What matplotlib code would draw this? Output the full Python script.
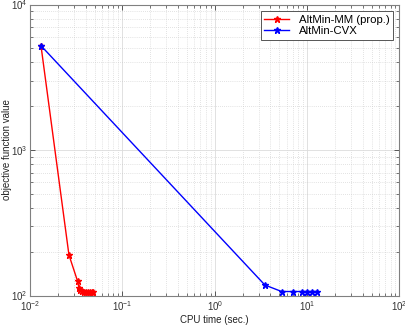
import matplotlib
matplotlib.use("Agg")
import matplotlib.pyplot as plt
from matplotlib.ticker import LogLocator, NullFormatter

plt.rcParams['font.family'] = ['Liberation Sans', 'DejaVu Sans']
plt.rcParams['mathtext.fontset'] = 'custom'
plt.rcParams['mathtext.rm'] = 'Liberation Sans'
plt.rcParams['mathtext.it'] = 'Liberation Sans'

mm_time = [0.01315, 0.0264, 0.0328, 0.0339, 0.0348, 0.0365, 0.0385, 0.0405,
           0.0425, 0.0445, 0.0465, 0.0484]
mm_obj = [5210, 190, 125, 113, 109, 107, 106.5, 106.5, 106.5, 106.5, 106.5, 106.5]
cvx_time = [0.01315, 3.49, 5.3, 7.08, 8.7, 10.0, 11.3, 12.7]
cvx_obj = [5210, 118, 106.5, 106.5, 106.5, 106.5, 106.5, 106.5]

series_labels = ['AltMin-MM (prop.)', 'AltMin-CVX']
xlabel = 'CPU time (sec.)'
ylabel = 'objective function value'

fig = plt.figure(figsize=(4.06, 3.25), dpi=100)
ax = fig.add_axes([30/406, 1-295.5/325, 369.5/406, 291/325])

ax.plot(mm_time, mm_obj, '-', color='red', lw=1.0, marker='*', ms=4.5,
        mec='red', mfc='red', label=series_labels[0])
ax.plot(cvx_time, cvx_obj, '-', color='blue', lw=1.0, marker='*', ms=4.5,
        mec='blue', mfc='blue', label=series_labels[1])

ax.set_xscale('log')
ax.set_yscale('log')
ax.set_xlim(1e-2, 1e2)
ax.set_ylim(1e2, 1e4)

ax.xaxis.set_major_locator(LogLocator(base=10, numticks=10))
ax.xaxis.set_minor_locator(LogLocator(base=10, subs=range(2, 10), numticks=20))
ax.yaxis.set_major_locator(LogLocator(base=10, numticks=10))
ax.yaxis.set_minor_locator(LogLocator(base=10, subs=range(2, 10), numticks=20))
ax.xaxis.set_minor_formatter(NullFormatter())
ax.yaxis.set_minor_formatter(NullFormatter())

ax.grid(True, which='major', color='#dcdcdc', lw=0.6, ls='-')
ax.grid(True, which='minor', color='#c8c8c8', lw=0.5, ls=(0, (1, 2)))
ax.set_axisbelow(True)

for s in ax.spines.values():
    s.set_color('#808080')
    s.set_linewidth(0.8)
ax.tick_params(which='both', direction='in', top=True, right=True,
               colors='#404040', labelsize=7, labelcolor='#333333')
ax.tick_params(which='major', length=3.5, width=0.6)
ax.tick_params(which='minor', length=2, width=0.5)
ax.tick_params(axis='x', pad=3)
ax.tick_params(axis='y', pad=2)

ax.set_xlabel(xlabel, fontsize=7, color='#222222', labelpad=1)
ax.set_ylabel(ylabel, fontsize=7, color='#222222')
ax.yaxis.set_label_coords(-0.05, 0.5)

leg = ax.legend(loc='upper right', fontsize=8.2, frameon=True, fancybox=False,
                edgecolor='#555555', framealpha=1, handlelength=2.2,
                borderpad=0.3, labelspacing=0.15, borderaxespad=0.6)
leg.get_frame().set_linewidth(0.7)

fig.savefig('out.png', dpi=100)
